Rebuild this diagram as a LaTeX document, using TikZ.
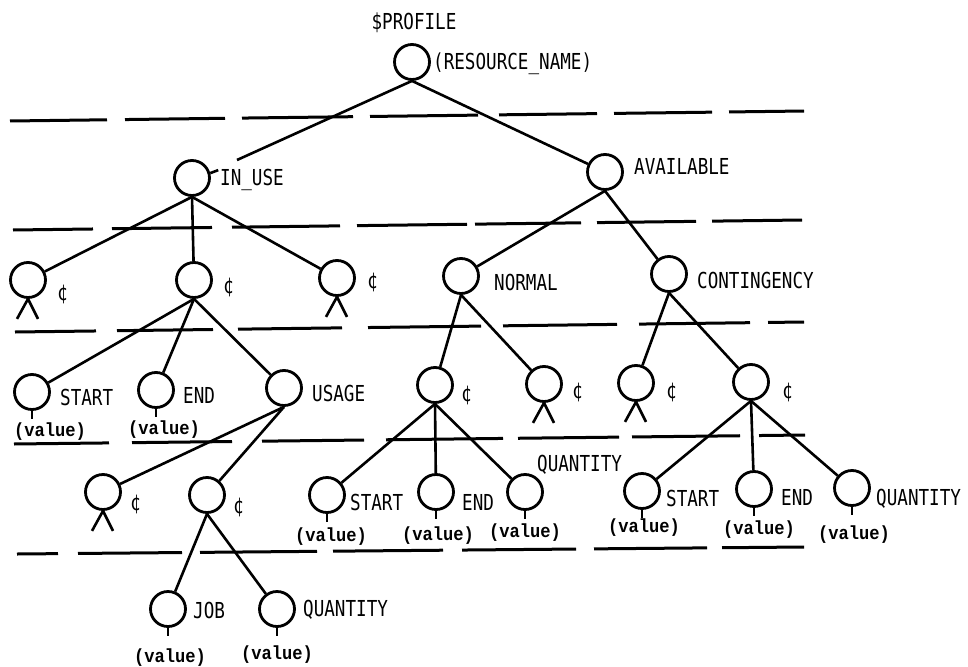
\documentclass[tikz,border=0pt]{standalone}
\usepackage{fontspec}
\newfontfamily\lblfont[FakeStretch=0.8]{DejaVu Sans Mono}
\newfontfamily\valfont[FakeStretch=0.9]{Liberation Mono}
\newcommand\dashrow[5]{\foreach \a/\b in {#5}{\draw[dsh] (\a,{#2+(\a-#1)*(#4-#2)/(#3-#1)}) -- (\b,{#2+(\b-#1)*(#4-#2)/(#3-#1)});}}
\begin{document}
\begin{tikzpicture}[x=1pt,y=-1pt,
  nd/.style={circle,draw,line width=2.8pt,minimum size=35pt,inner sep=0pt},
  lbl/.style={font=\lblfont\fontsize{22}{22}\selectfont,inner sep=0pt,anchor=west,text height=16pt,text depth=0pt},
  val/.style={font=\valfont\bfseries\fontsize{19}{19}\selectfont,inner sep=0pt,text height=12pt,text depth=4pt},
  edge/.style={line width=2.6pt},
  dsh/.style={line width=3pt}]
\useasboundingbox (0,0) rectangle (968,666);
% dashed level separators
\dashrow{10}{121}{805}{111}{10/107,125/225,242/353,370/478,499/597,614/712,729/804}
\dashrow{13}{230}{802}{220}{13/93,112/212,232/340,357/467,475/581,597/696,712/802}
\dashrow{15}{332}{804}{322}{15/96,117/213,238/342,368/481,503/617,639/750,768/804}
\dashrow{14}{444}{805}{435}{14/109,132/232,262/364,386/503,518/619,632/740,759/805}
\dashrow{17}{554}{804}{547}{17/58,78/182,200/317,333/443,462/576,594/707,722/804}
% level 0
\node[nd] (root) at (412,62) {};
\node[lbl,anchor=center] (lprof) at (414,22) {\$PROFILE};
\node[lbl] (lres) at (433,62) {(RESOURCE\_NAME)};
% level 1
\node[nd] (inuse) at (192,178) {};
\node[lbl] (linuse) at (220,177) {IN\_USE};
\coordinate (inuseEnd) at (237,160);
\node[nd] (avail) at (605,172) {};
\node[lbl] (lavail) at (634,166) {AVAILABLE};
% level 2
\node[nd] (c1) at (28,280) {};
\node[lbl] (lc1) at (57,292) {¢};
\node[nd] (c2) at (194,280) {};
\node[lbl] (lc2) at (223,285) {¢};
\node[nd] (c3) at (337,278) {};
\node[lbl] (lc3) at (367,280) {¢};
\node[nd] (normal) at (461,276) {};
\node[lbl] (lnormal) at (494,282) {NORMAL};
\node[nd] (conting) at (669,274) {};
\node[lbl] (lconting) at (697,280) {CONTINGENCY};
% level 3
\node[nd] (start1) at (32,392) {};
\node[lbl] (lstart1) at (60,397) {START};
\node[val] (vstart1) at (50,432) {(value)};
\node[nd] (end1) at (156,390) {};
\node[lbl] (lend1) at (183,395) {END};
\node[val] (vend1) at (164,430) {(value)};
\node[nd] (usage) at (284,388) {};
\node[lbl] (lusage) at (312,393) {USAGE};
\node[nd] (n1) at (435,385) {};
\node[lbl] (ln1) at (461,393) {¢};
\node[nd] (n2) at (544,384) {};
\node[lbl] (ln2) at (572,390) {¢};
\node[nd] (k1) at (636,383) {};
\node[lbl] (lk1) at (666,390) {¢};
\node[nd] (k2) at (751,382) {};
\node[lbl] (lk2) at (782,390) {¢};
% level 4
\node[nd] (u1) at (103,492) {};
\node[lbl] (lu1) at (130,502) {¢};
\node[nd] (u2) at (207,495) {};
\node[lbl] (lu2) at (233,505) {¢};
\node[nd] (start2) at (327,495) {};
\node[lbl] (lstart2) at (350,502) {START};
\node[val] (vstart2) at (331,537) {(value)};
\node[nd] (end2) at (436,492) {};
\node[lbl] (lend2) at (462,502) {END};
\node[val] (vend2) at (438,536) {(value)};
\node[nd] (qty2) at (525,492) {};
\node[lbl] (lqty2) at (537,463) {QUANTITY};
\node[val] (vqty2) at (525,533) {(value)};
\node[nd] (start3) at (642,491) {};
\node[lbl] (lstart3) at (666,498) {START};
\node[val] (vstart3) at (644,528) {(value)};
\node[nd] (end3) at (754,489) {};
\node[lbl] (lend3) at (781,497) {END};
\node[val] (vend3) at (759,530) {(value)};
\node[nd] (qty3) at (852,488) {};
\node[lbl] (lqty3) at (876,497) {QUANTITY};
\node[val] (vqty3) at (854,535) {(value)};
% level 5
\node[nd] (job) at (168,609) {};
\node[lbl] (ljob) at (193,610) {JOB};
\node[val] (vjob) at (170,658) {(value)};
\node[nd] (qty5) at (277,609) {};
\node[lbl] (lqty5) at (303,608) {QUANTITY};
\node[val] (vqty5) at (277,655) {(value)};
% connectors
\draw[edge] (root.south) -- (inuseEnd);
\draw[edge] (inuse.15) -- ++(8,-3);
\draw[edge] (root.south) -- (avail);
\foreach \c in {c1,c2,c3} \draw[edge] (inuse.south) -- (\c);
\foreach \c in {normal,conting} \draw[edge] (avail.south) -- (\c);
\foreach \c in {start1,end1,usage} \draw[edge] (c2.south) -- (\c);
\foreach \c in {n1,n2} \draw[edge] (normal.south) -- (\c);
\foreach \c in {k1,k2} \draw[edge] (conting.south) -- (\c);
\foreach \c in {u1,u2} \draw[edge] (usage.south) -- (\c);
\foreach \c in {start2,end2,qty2} \draw[edge] (n1.south) -- (\c);
\foreach \c in {start3,end3,qty3} \draw[edge] (k2.south) -- (\c);
\foreach \c in {job,qty5} \draw[edge] (u2.south) -- (\c);
% feet of repeating-group markers
\foreach \c in {c1,c3,n2,k1,u1} {
  \draw[edge] (\c.south) -- ++(-11,20);
  \draw[edge] (\c.south) -- ++(10,20);
}
% value stems
\foreach \c in {start1,end1,start2,end2,qty2,start3,end3,qty3,job,qty5}
  \draw[edge] (\c.south) -- ++(0,8);
\end{tikzpicture}
\end{document}
